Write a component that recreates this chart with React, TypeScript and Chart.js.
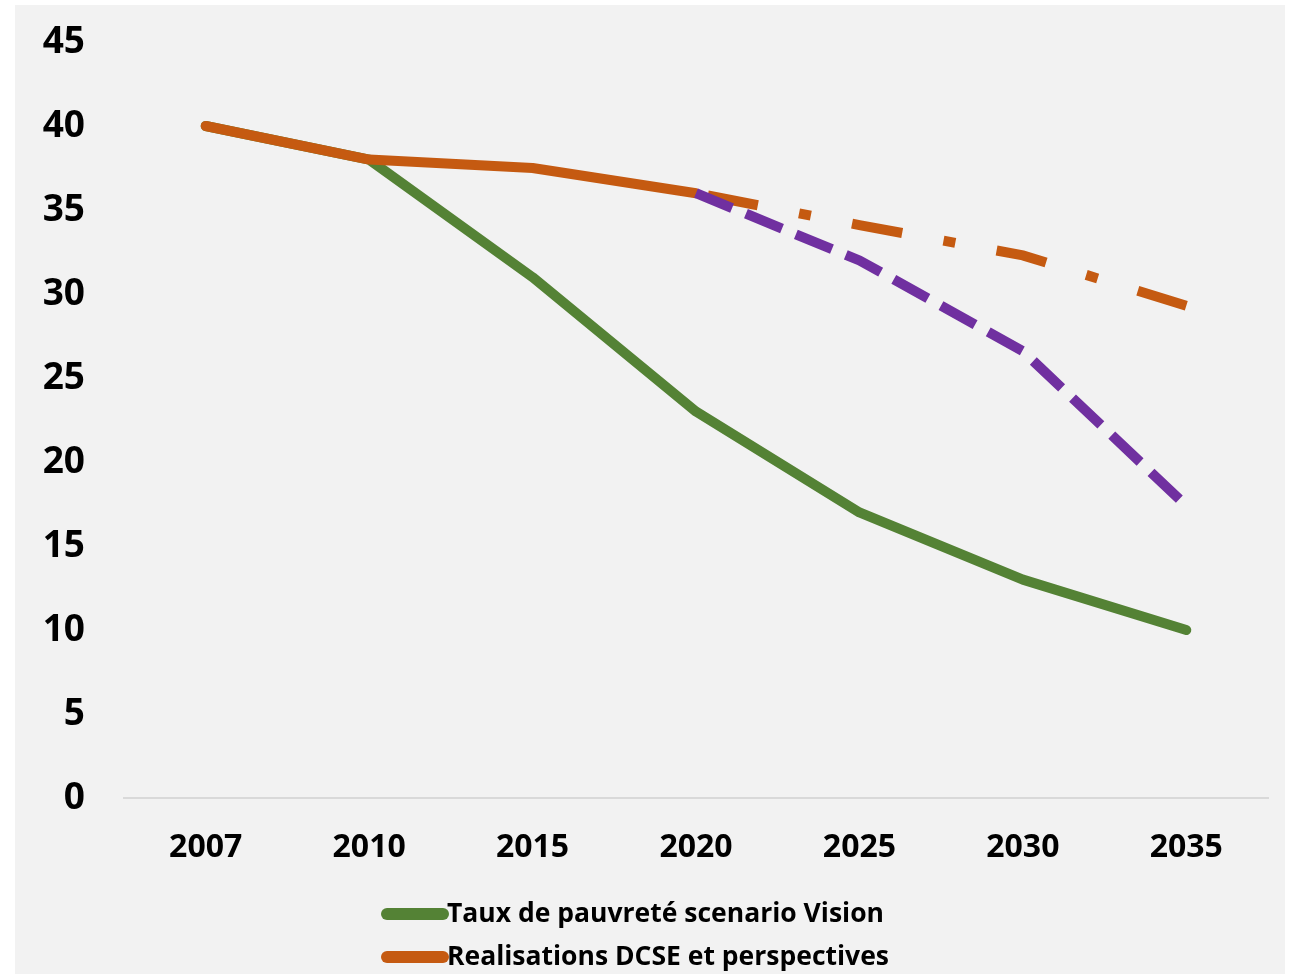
import React, { useEffect, useRef } from "react";
import { Chart, registerables } from "chart.js";

Chart.register(...registerables);

const years = ["2007", "2010", "2015", "2020", "2025", "2030", "2035"];
const visionSeries = [40, 38, 31, 23, 17, 13, 10];
const realisationsSeries = [40, 38, 37.5, 36, null, null, null];
const perspectivesSeries = [null, null, null, 36, 34.1, 32.3, 29.3];
const acceleratedSeries = [null, null, null, 36, 32, 26.6, 17.4];
const yTicks = [0, 5, 10, 15, 20, 25, 30, 35, 40, 45];
const legendLabels = ["Taux de pauvreté scenario Vision", "Realisations DCSE et perspectives"];

const GREEN = "#548235";
const ORANGE = "#c55a11";
const PURPLE = "#7030a0";
const FONT = "'Open Sans', 'Noto Sans', sans-serif";

const legendPlugin = {
  id: "stackedLegend",
  afterDraw(chart: any) {
    const ctx = chart.ctx;
    const colors = [GREEN, ORANGE];
    ctx.save();
    ctx.font = `bold 26.5px ${FONT}`;
    ctx.textBaseline = "middle";
    ctx.textAlign = "left";
    legendLabels.forEach((label, i) => {
      const y = 909 + i * 43;
      ctx.strokeStyle = colors[i];
      ctx.lineWidth = 12;
      ctx.lineCap = "round";
      ctx.beginPath();
      ctx.moveTo(372, y);
      ctx.lineTo(428, y);
      ctx.stroke();
      ctx.fillStyle = "#000";
      ctx.fillText(label, 432, y);
    });
    ctx.restore();
  },
};

export default function App() {
  const ref = useRef<HTMLCanvasElement | null>(null);
  useEffect(() => {
    if (!ref.current) return;
    const chart = new Chart(ref.current, {
      type: "line",
      data: {
        labels: years,
        datasets: [
          {
            label: legendLabels[0],
            data: visionSeries,
            borderColor: GREEN,
            borderWidth: 10,
            borderCapStyle: "round",
            borderJoinStyle: "round",
            pointRadius: 0,
            order: 4,
          },
          {
            label: legendLabels[1],
            data: realisationsSeries,
            borderColor: ORANGE,
            borderWidth: 10,
            borderCapStyle: "round",
            borderJoinStyle: "round",
            pointRadius: 0,
            order: 3,
          },
          {
            label: "Perspectives",
            data: perspectivesSeries,
            borderColor: ORANGE,
            borderWidth: 10,
            borderDash: [51, 42, 12, 42],
            borderDashOffset: 135,
            borderCapStyle: "butt",
            borderJoinStyle: "miter",
            pointRadius: 0,
            order: 2,
          },
          {
            label: "Scenario",
            data: acceleratedSeries,
            borderColor: PURPLE,
            borderWidth: 10,
            borderDash: [39, 15],
            borderCapStyle: "butt",
            borderJoinStyle: "miter",
            pointRadius: 0,
            order: 1,
          },
        ],
      },
      options: {
        animation: false,
        responsive: false,
        maintainAspectRatio: false,
        layout: { padding: { top: 37, right: 17, left: 0, bottom: 0 } },
        plugins: {
          legend: { display: false },
          tooltip: { enabled: false },
        },
        scales: {
          x: {
            offset: true,
            grid: { display: false, drawTicks: false },
            border: { display: true, color: "#d9d9d9", width: 2 },
            ticks: {
              color: "#000",
              padding: 31,
              font: { family: FONT, size: 32, weight: "bold" },
            },
            afterFit: (s: any) => {
              s.height = 176;
            },
          },
          y: {
            min: 0,
            max: 45,
            grid: { display: false, drawTicks: false },
            border: { display: false },
            afterBuildTicks: (s: any) => {
              s.ticks = yTicks.map((v) => ({ value: v }));
            },
            ticks: {
              color: "#000",
              padding: 39,
              font: { family: FONT, size: 37, weight: "bold" },
            },
            afterFit: (s: any) => {
              s.width = 109;
              s.paddingTop = 0;
              s.paddingBottom = 0;
            },
          },
        },
      },
      plugins: [legendPlugin],
    } as any);
    return () => chart.destroy();
  }, []);

  return (
    <div style={{ position: "fixed", left: 0, top: 0, width: 1293, height: 974, background: "#fff" }}>
      <div style={{ position: "absolute", left: 15, top: 5, width: 1270, height: 969, background: "#f2f2f2" }}>
        <canvas ref={ref} width={1270} height={969} style={{ width: 1270, height: 969, display: "block" }} />
      </div>
    </div>
  );
}
